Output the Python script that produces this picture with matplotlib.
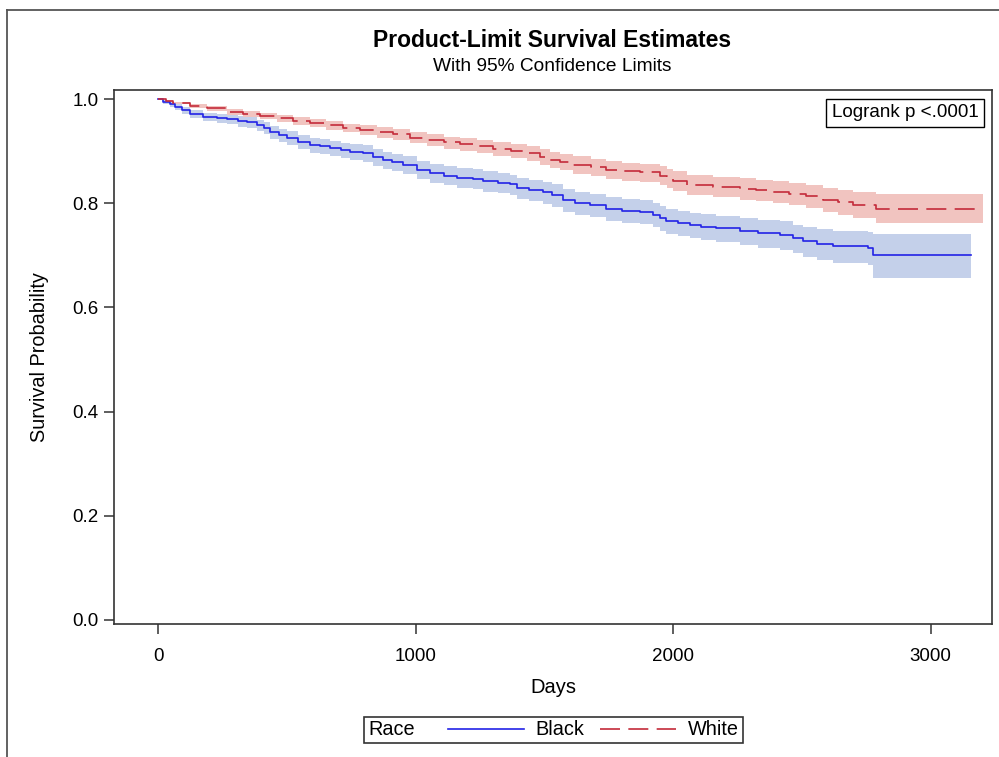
import matplotlib
matplotlib.use("Agg")
import matplotlib.pyplot as plt
from matplotlib.lines import Line2D
from matplotlib.offsetbox import HPacker

plt.rcParams['font.family'] = ['Liberation Sans', 'DejaVu Sans']

# Kaplan-Meier estimates (days, survival, 95% CL)
black_days = [0, 20, 45, 66, 95, 124, 176, 230, 267, 310, 344, 383, 410, 435, 470, 499,
              545, 590, 630, 667, 710, 745, 796, 835, 873, 910, 951, 1004, 1055, 1110,
              1159, 1224, 1262, 1320, 1366, 1392, 1440, 1495, 1530, 1573, 1620, 1676,
              1741, 1800, 1870, 1922, 1950, 1974, 2020, 2064, 2110, 2168, 2258, 2330,
              2414, 2465, 2504, 2560, 2620, 2756, 2776, 3158]
black_surv = [1.000, 0.995, 0.990, 0.985, 0.978, 0.972, 0.966, 0.964, 0.962, 0.958, 0.955,
              0.950, 0.944, 0.937, 0.931, 0.925, 0.918, 0.912, 0.909, 0.906, 0.902, 0.899,
              0.896, 0.889, 0.883, 0.879, 0.874, 0.864, 0.858, 0.853, 0.849, 0.847, 0.842,
              0.839, 0.836, 0.829, 0.825, 0.821, 0.815, 0.806, 0.801, 0.797, 0.789, 0.786,
              0.784, 0.778, 0.772, 0.766, 0.762, 0.759, 0.755, 0.752, 0.746, 0.742, 0.739,
              0.733, 0.727, 0.722, 0.717, 0.714, 0.700, 0.700]
black_lo = [1.000, 0.991, 0.985, 0.979, 0.971, 0.964, 0.957, 0.954, 0.952, 0.947, 0.944,
            0.938, 0.932, 0.924, 0.918, 0.911, 0.904, 0.897, 0.894, 0.890, 0.886, 0.883,
            0.879, 0.872, 0.866, 0.861, 0.856, 0.846, 0.839, 0.834, 0.830, 0.827, 0.822,
            0.819, 0.815, 0.808, 0.804, 0.799, 0.793, 0.784, 0.778, 0.774, 0.766, 0.762,
            0.760, 0.754, 0.747, 0.741, 0.737, 0.733, 0.729, 0.726, 0.719, 0.714, 0.711,
            0.704, 0.697, 0.691, 0.685, 0.681, 0.657, 0.657]
black_hi = [1.000, 0.998, 0.994, 0.990, 0.984, 0.979, 0.974, 0.972, 0.971, 0.967, 0.965,
            0.960, 0.955, 0.949, 0.943, 0.938, 0.931, 0.925, 0.923, 0.920, 0.916, 0.913,
            0.911, 0.904, 0.899, 0.895, 0.890, 0.881, 0.875, 0.871, 0.867, 0.865, 0.861,
            0.858, 0.855, 0.849, 0.845, 0.841, 0.836, 0.827, 0.822, 0.818, 0.811, 0.808,
            0.806, 0.801, 0.795, 0.789, 0.785, 0.782, 0.779, 0.776, 0.771, 0.767, 0.765,
            0.759, 0.754, 0.750, 0.746, 0.744, 0.740, 0.740]

white_days = [0, 30, 60, 124, 190, 267, 330, 396, 460, 525, 590, 654, 720, 784, 850, 913,
              980, 1043, 1110, 1172, 1240, 1301, 1370, 1431, 1482, 1520, 1560, 1611, 1680,
              1741, 1800, 1870, 1948, 1975, 2000, 2052, 2155, 2258, 2320, 2388, 2450, 2517,
              2582, 2640, 2698, 2789, 3203]
white_surv = [1.000, 0.996, 0.993, 0.987, 0.982, 0.976, 0.972, 0.968, 0.963, 0.958, 0.954,
              0.950, 0.945, 0.941, 0.936, 0.932, 0.926, 0.921, 0.917, 0.913, 0.909, 0.905,
              0.900, 0.896, 0.889, 0.883, 0.879, 0.874, 0.869, 0.864, 0.861, 0.859, 0.853,
              0.848, 0.842, 0.835, 0.832, 0.828, 0.825, 0.822, 0.818, 0.813, 0.807, 0.802,
              0.797, 0.789, 0.789]
white_lo = [1.000, 0.994, 0.990, 0.983, 0.977, 0.970, 0.966, 0.961, 0.956, 0.950, 0.946,
            0.941, 0.936, 0.931, 0.926, 0.921, 0.915, 0.909, 0.905, 0.900, 0.896, 0.891,
            0.886, 0.881, 0.874, 0.867, 0.863, 0.857, 0.852, 0.847, 0.843, 0.841, 0.834,
            0.829, 0.823, 0.815, 0.812, 0.807, 0.804, 0.800, 0.796, 0.790, 0.783, 0.777,
            0.771, 0.762, 0.762]
white_hi = [1.000, 0.998, 0.995, 0.990, 0.986, 0.981, 0.977, 0.974, 0.970, 0.965, 0.961,
            0.958, 0.953, 0.950, 0.946, 0.942, 0.937, 0.932, 0.928, 0.925, 0.921, 0.918,
            0.913, 0.910, 0.904, 0.898, 0.895, 0.890, 0.885, 0.881, 0.878, 0.876, 0.871,
            0.866, 0.861, 0.854, 0.851, 0.848, 0.845, 0.843, 0.839, 0.835, 0.830, 0.826,
            0.822, 0.817, 0.817]

x_ticks = [0, 1000, 2000, 3000]
y_ticks = [0.0, 0.2, 0.4, 0.6, 0.8, 1.0]

blue = '#2323E6'
blue_band = '#C4D0EA'
red = '#C42B3A'
red_band = '#F1C4C0'

fig = plt.figure(figsize=(9.99, 7.57), dpi=100)
ax = fig.add_axes([0.1141, 0.1757, 0.8789, 0.7054])

ax.fill_between(black_days, black_lo, black_hi, step='post', color=blue_band, lw=0)
ax.fill_between(white_days, white_lo, white_hi, step='post', color=red_band, lw=0)
ax.plot(black_days, black_surv, drawstyle='steps-post', color=blue, lw=1.2, label='Black')
ax.plot(white_days, white_surv, drawstyle='steps-post', color=red, lw=1.2,
        linestyle=(0, (12, 5)), label='White')

ax.set_xlim(-171, 3238)
ax.set_ylim(-0.0077, 1.0173)
ax.set_xticks(x_ticks)
ax.set_yticks(y_ticks)
ax.set_yticklabels(['%.1f' % v for v in y_ticks])
ax.tick_params(direction='out', length=7, width=1.1, color='#333333', labelsize=13.5, pad=4)
ax.tick_params(axis='x', pad=10)
for sp in ax.spines.values():
    sp.set_color('#333333')
    sp.set_linewidth(1.2)

ax.set_xlabel('Days', fontsize=14.5, labelpad=10)
ax.set_ylabel('Survival Probability', fontsize=14.3, labelpad=17)

fig.text(0.553, 0.947, 'Product-Limit Survival Estimates', ha='center', va='center',
         fontsize=16.5, fontweight='bold')
fig.text(0.553, 0.912, 'With 95% Confidence Limits', ha='center', va='center', fontsize=13.8)

ax.text(0.9845, 0.973, 'Logrank p <.0001', transform=ax.transAxes, ha='right', va='top',
        fontsize=13.6, bbox=dict(boxstyle='square,pad=0.3', fc='white', ec='black', lw=1))

# legend: "Race" title placed to the left of the entries
leg = ax.legend(title='Race', loc='center', bbox_to_anchor=(0.554, 0.0357),
                bbox_transform=fig.transFigure, ncol=2, frameon=True, fancybox=False,
                edgecolor='black', fontsize=14.3, title_fontsize=14.3, handlelength=3.8,
                handletextpad=0.6, columnspacing=0.8, borderpad=0.2)
leg.get_frame().set_linewidth(1.2)
box = leg._legend_box
children = box.get_children()
leg._legend_box = HPacker(pad=box.pad, sep=24, align='baseline', children=children)
leg._legend_box.set_figure(fig)
leg._legend_box.axes = ax
leg._legend_box.set_offset(leg._findoffset)

# outer frame (top and left edges visible)
fig.add_artist(Line2D([7 / 999, 1], [1 - 10 / 757, 1 - 10 / 757], transform=fig.transFigure,
                      color='#555555', lw=1.3))
fig.add_artist(Line2D([7 / 999, 7 / 999], [0, 1 - 10 / 757], transform=fig.transFigure,
                      color='#555555', lw=1.3))

fig.savefig('out.png', dpi=100)
